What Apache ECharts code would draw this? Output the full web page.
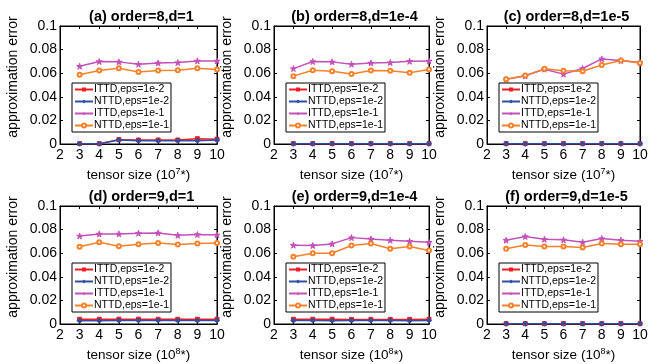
<!DOCTYPE html>
<html><head><meta charset="utf-8">
<script src="https://cdn.jsdelivr.net/npm/echarts@6/dist/echarts.min.js"></script>
<style>html,body{margin:0;padding:0;background:#fff}#c{width:667px;height:364px}</style>
</head><body><div id="c"></div>
<script>
const xValues = [3,4,5,6,7,8,9,10];
const xTicks = [2,3,4,5,6,7,8,9,10];
const yTicks = [0,0.02,0.04,0.06,0.08,0.1];
const seriesNames = ['ITTD,eps=1e-2','NTTD,eps=1e-2','ITTD,eps=1e-1','NTTD,eps=1e-1'];
const panelTitles = ['(a) order=8,d=1','(b) order=8,d=1e-4','(c) order=8,d=1e-5','(d) order=9,d=1','(e) order=9,d=1e-4','(f) order=9,d=1e-5'];
const panelExponents = ['7','7','7','8','8','8'];

// (a)
const a_ITTD_e2 = [0.0003,0.0003,0.0037,0.0034,0.0034,0.0034,0.0045,0.0040];
const a_NTTD_e2 = [0.0002,0.0002,0.0034,0.0028,0.0028,0.0028,0.0028,0.0034];
const a_ITTD_e1 = [0.0659,0.0699,0.0696,0.0676,0.0687,0.0690,0.0704,0.0704];
const a_NTTD_e1 = [0.0586,0.0623,0.0642,0.0611,0.0623,0.0625,0.0642,0.0631];
// (b)
const b_ITTD_e2 = [0.0003,0.0003,0.0003,0.0003,0.0003,0.0003,0.0003,0.0003];
const b_NTTD_e2 = [0.0002,0.0002,0.0002,0.0002,0.0002,0.0002,0.0002,0.0002];
const b_ITTD_e1 = [0.0639,0.0699,0.0696,0.0676,0.0687,0.0690,0.0701,0.0704];
const b_NTTD_e1 = [0.0575,0.0625,0.0617,0.0594,0.0623,0.0620,0.0603,0.0631];
// (c)
const c_ITTD_e2 = [0.0003,0.0003,0.0003,0.0003,0.0003,0.0003,0.0003,0.0003];
const c_NTTD_e2 = [0.0002,0.0002,0.0002,0.0002,0.0002,0.0002,0.0002,0.0002];
const c_ITTD_e1 = [0.0549,0.0577,0.0634,0.0592,0.0640,0.0721,0.0707,0.0690];
const c_NTTD_e1 = [0.0549,0.0580,0.0637,0.0620,0.0617,0.0670,0.0707,0.0687];
// (d)
const d_ITTD_e2 = [0.0040,0.0040,0.0041,0.0041,0.0040,0.0040,0.0040,0.0040];
const d_NTTD_e2 = [0.0028,0.0028,0.0029,0.0030,0.0030,0.0029,0.0029,0.0030];
const d_ITTD_e1 = [0.0746,0.0763,0.0763,0.0769,0.0772,0.0752,0.0758,0.0755];
const d_NTTD_e1 = [0.0654,0.0693,0.0659,0.0676,0.0687,0.0673,0.0682,0.0687];
// (e)
const e_ITTD_e2 = [0.0040,0.0040,0.0040,0.0039,0.0039,0.0039,0.0039,0.0040];
const e_NTTD_e2 = [0.0029,0.0030,0.0028,0.0029,0.0029,0.0029,0.0028,0.0030];
const e_ITTD_e1 = [0.0668,0.0665,0.0679,0.0732,0.0721,0.0710,0.0701,0.0693];
const e_NTTD_e1 = [0.0569,0.0600,0.0600,0.0665,0.0682,0.0637,0.0656,0.0623];
// (f)
const f_ITTD_e2 = [0.0003,0.0003,0.0003,0.0003,0.0003,0.0003,0.0003,0.0003];
const f_NTTD_e2 = [0.0002,0.0002,0.0002,0.0002,0.0002,0.0002,0.0002,0.0002];
const f_ITTD_e1 = [0.0710,0.0741,0.0718,0.0713,0.0693,0.0724,0.0710,0.0701];
const f_NTTD_e1 = [0.0637,0.0670,0.0656,0.0656,0.0648,0.0682,0.0676,0.0676];

const panelData = [
  [a_ITTD_e2,a_NTTD_e2,a_ITTD_e1,a_NTTD_e1],
  [b_ITTD_e2,b_NTTD_e2,b_ITTD_e1,b_NTTD_e1],
  [c_ITTD_e2,c_NTTD_e2,c_ITTD_e1,c_NTTD_e1],
  [d_ITTD_e2,d_NTTD_e2,d_ITTD_e1,d_NTTD_e1],
  [e_ITTD_e2,e_NTTD_e2,e_ITTD_e1,e_NTTD_e1],
  [f_ITTD_e2,f_NTTD_e2,f_ITTD_e1,f_NTTD_e1]
];

const FONT = 'Liberation Sans, Arial, sans-serif';
const colors = ['#ee1c25','#2e4fa3','#c351b8','#f5822a'];
const starPath = 'path://M50,0 L61,35 L98,35 L68,57 L79,91 L50,70 L21,91 L32,57 L2,35 L39,35 Z';
const symbols = ['rect','diamond',starPath,'emptyCircle'];
const symbolSizes = [4,5,6,4];

const gridPos = [
  {left:60,top:26,width:157,height:118},
  {left:274,top:26,width:155,height:118},
  {left:487,top:26,width:153,height:118},
  {left:60,top:206,width:157,height:118},
  {left:274,top:206,width:155,height:118},
  {left:487,top:206,width:153,height:118}
];

const grid=[],xAxis=[],yAxis=[],series=[],title=[],legend=[];
gridPos.forEach((g,i)=>{
  grid.push({left:g.left,top:g.top,width:g.width,height:g.height,show:true,borderColor:'#000',borderWidth:1,backgroundColor:'transparent'});
  title.push({text:panelTitles[i],left:g.left+g.width/2-2,top:g.top-22,textAlign:'center',
    textStyle:{fontFamily:FONT,fontSize:14.5,fontWeight:'bold',color:'#000'}});
  const common = {gridIndex:i,type:'value'};
  xAxis.push(Object.assign({},common,{min:xTicks[0],max:xTicks[xTicks.length-1],interval:1,position:'bottom',
    axisLine:{show:true,onZero:false,lineStyle:{color:'#000',width:1}},
    axisTick:{show:true,inside:true,length:3,lineStyle:{color:'#000'}},
    axisLabel:{show:true,color:'#000',fontFamily:FONT,fontSize:14,margin:4},
    splitLine:{show:false},
    name:'{t|tensor size (10}{s|'+panelExponents[i]+'}{t|*)}',nameLocation:'middle',nameGap:23,
    nameTextStyle:{rich:{t:{fontFamily:FONT,fontSize:13.5,color:'#000'},s:{fontFamily:FONT,fontSize:9,color:'#000',verticalAlign:'top',padding:[0,0,8,0]}}}
  }));
  xAxis.push(Object.assign({},common,{min:2,max:10,interval:1,position:'top',
    axisLine:{show:true,onZero:false,lineStyle:{color:'#000'}},
    axisTick:{show:true,inside:true,length:3,lineStyle:{color:'#000'}},
    axisLabel:{show:false},splitLine:{show:false}}));
  yAxis.push(Object.assign({},common,{min:yTicks[0],max:yTicks[yTicks.length-1],interval:0.02,position:'left',
    axisLine:{show:true,onZero:false,lineStyle:{color:'#000'}},
    axisTick:{show:true,inside:true,length:3,lineStyle:{color:'#000'}},
    axisLabel:{show:true,color:'#000',fontFamily:FONT,fontSize:14,margin:3},
    splitLine:{show:false},
    name:'{g|}{a|approximation error}',nameLocation:'middle',nameGap:40,nameRotate:90,
    nameTextStyle:{rich:{g:{width:16},a:{fontFamily:FONT,fontSize:14,color:'#000'}}}
  }));
  yAxis.push(Object.assign({},common,{min:0,max:0.1,interval:0.02,position:'right',
    axisLine:{show:true,onZero:false,lineStyle:{color:'#000'}},
    axisTick:{show:true,inside:true,length:3,lineStyle:{color:'#000'}},
    axisLabel:{show:false},splitLine:{show:false}}));
  panelData[i].forEach((arr,k)=>{
    series.push({type:'line',name:seriesNames[k],xAxisIndex:2*i,yAxisIndex:2*i,
      data:xValues.map((x,j)=>[x,arr[j]]),
      symbol:symbols[k],symbolSize:symbolSizes[k],showAllSymbol:true,
      itemStyle:{color:colors[k],borderColor:colors[k]},
      lineStyle:{color:colors[k],width:1.5},
      animation:false,silent:true});
  });
  legend.push({orient:'vertical',left:g.left+12,top:g.top+57,data:seriesNames,
    borderColor:'#000',borderWidth:1,backgroundColor:'#fff',padding:[1,2,1,2],itemGap:1,
    itemWidth:18,itemHeight:5,selectedMode:false,
    textStyle:{fontFamily:FONT,fontSize:10.5,color:'#000',padding:[0,0,0,-4]}});
});

const chart = echarts.init(document.getElementById('c'),null,{renderer:'canvas'});
chart.setOption({animation:false,backgroundColor:'#fff',title,legend,grid,xAxis,yAxis,series});
</script></body></html>
